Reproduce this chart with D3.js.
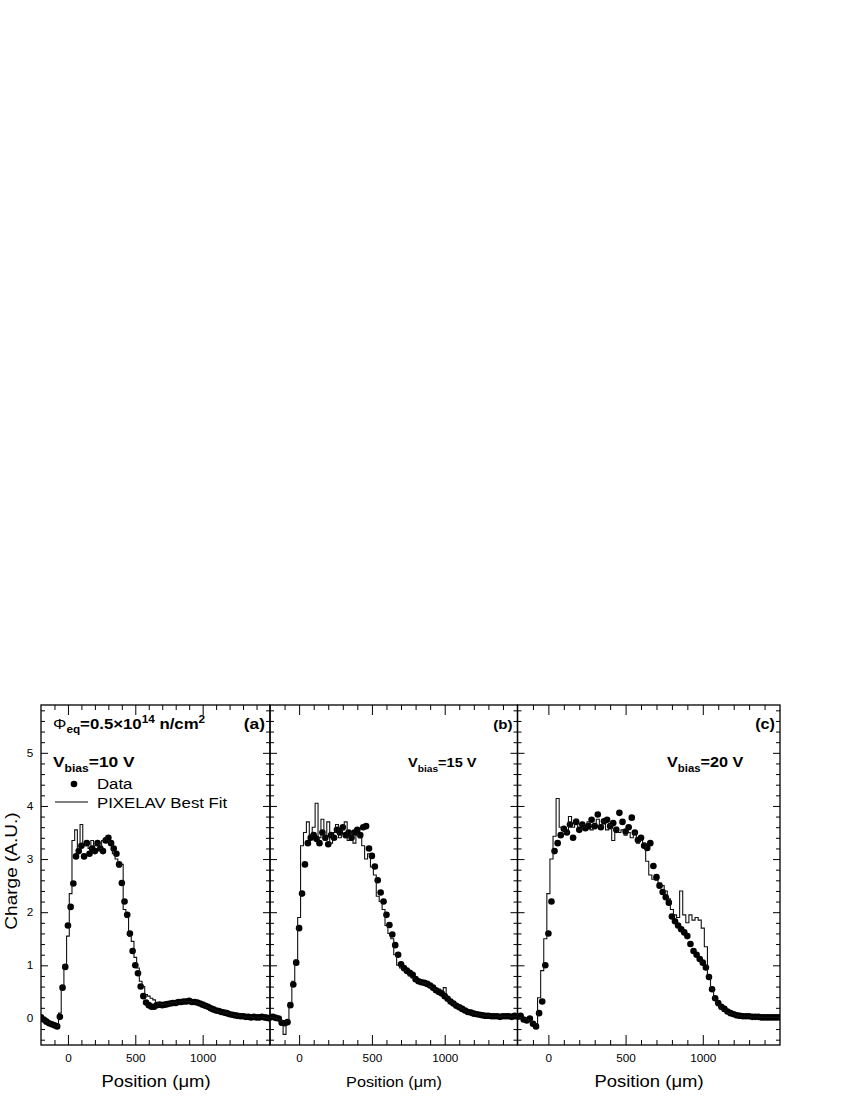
<!DOCTYPE html>
<html>
<head>
<meta charset="utf-8">
<script src="https://cdn.jsdelivr.net/npm/d3@7"></script>
<style>
body { margin: 0; background: #fff; }
text { font-family: "Liberation Sans", Arial, Helvetica, sans-serif; }
</style>
</head>
<body>
<div id="chart"></div>
<script>
// positions (um), same for every panel
const position = [
  -200,-180,-160,-140,-120,-100,-80,-60,-40,-20,
  0,20,40,60,80,100,120,140,160,180,
  200,220,240,260,280,300,320,340,360,380,
  400,420,440,460,480,500,520,540,560,580,
  600,620,640,660,680,700,720,740,760,780,
  800,820,840,860,880,900,920,940,960,980,
  1000,1020,1040,1060,1080,1100,1120,1140,1160,1180,
  1200,1220,1240,1260,1280,1300,1320,1340,1360,1380,
  1400,1420,1440,1460,1480,1500
];

// (a) Vbias = 10 V
const dataA = [
  0.02,-0.02,-0.06,-0.09,-0.11,-0.13,-0.15,0.03,0.58,0.97,
  1.75,2.1,2.54,3.05,3.15,3.25,3.05,3.3,3.1,3.2,
  3.15,3.3,3.2,3.15,3.35,3.4,3.3,3.2,3.1,2.9,
  2.55,2.2,1.95,1.6,1.27,1.0,0.85,0.6,0.42,0.3,
  0.25,0.22,0.22,0.25,0.26,0.25,0.26,0.27,0.28,0.29,
  0.29,0.31,0.31,0.32,0.32,0.33,0.31,0.31,0.30,0.28,
  0.26,0.24,0.22,0.19,0.17,0.15,0.14,0.12,0.11,0.10,
  0.08,0.07,0.06,0.05,0.04,0.04,0.03,0.03,0.02,0.03,
  0.02,0.02,0.03,0.02,0.01,0.0
];
const fitA = [
  0.0,-0.03,-0.06,-0.09,-0.12,-0.14,-0.15,0.1,0.6,1.0,
  1.55,2.35,3.35,3.55,3.2,3.65,3.25,3.3,3.2,3.35,
  3.25,3.3,3.2,3.35,3.4,3.35,3.3,3.1,3.0,2.85,
  2.9,2.05,1.9,1.55,1.45,1.15,0.95,0.7,0.6,0.45,
  0.42,0.38,0.35,0.3,0.28,0.26,0.27,0.27,0.29,0.3,
  0.3,0.31,0.32,0.33,0.32,0.32,0.31,0.31,0.29,0.28,
  0.26,0.24,0.21,0.19,0.17,0.15,0.13,0.12,0.11,0.1,
  0.08,0.07,0.06,0.05,0.05,0.04,0.03,0.03,0.03,0.02,
  0.02,0.02,0.02,0.02,0.01,0.0
];

// (b) Vbias = 15 V
const dataB = [
  0.02,0.03,0.01,0.0,-0.08,-0.09,-0.07,0.25,0.64,1.05,
  1.7,2.35,2.9,3.3,3.4,3.45,3.38,3.3,3.5,3.4,
  3.28,3.45,3.4,3.55,3.5,3.6,3.45,3.5,3.4,3.5,
  3.55,3.45,3.6,3.62,3.2,3.06,2.86,2.6,2.37,2.2,
  1.95,1.76,1.58,1.38,1.2,1.02,0.95,0.9,0.86,0.82,
  0.74,0.7,0.68,0.67,0.65,0.62,0.58,0.53,0.5,0.47,
  0.42,0.37,0.32,0.28,0.24,0.21,0.18,0.15,0.12,0.11,
  0.09,0.08,0.07,0.06,0.05,0.05,0.04,0.04,0.04,0.03,
  0.04,0.04,0.04,0.03,0.05,0.04
];
const fitB = [
  0.02,0.02,0.0,-0.02,-0.05,-0.3,-0.05,0.3,0.7,1.1,
  1.9,3.25,3.5,3.7,3.45,3.6,4.05,3.4,3.75,3.35,
  3.7,3.3,3.5,3.65,3.4,3.55,3.7,3.35,3.5,3.3,
  3.45,3.4,3.25,3.0,3.1,2.85,2.7,2.3,2.2,2.05,
  1.75,1.6,1.5,1.2,1.0,0.95,0.9,0.85,0.8,0.76,
  0.72,0.7,0.68,0.66,0.63,0.6,0.57,0.55,0.55,0.52,
  0.58,0.4,0.33,0.28,0.24,0.21,0.18,0.15,0.12,0.11,
  0.09,0.08,0.07,0.06,0.05,0.05,0.04,0.04,0.04,0.03,
  0.04,0.04,0.04,0.03,0.04,0.04
];

// (c) Vbias = 20 V
const dataC = [
  0.03,0.05,-0.02,-0.04,0.0,-0.1,-0.15,0.1,0.32,1.0,
  1.6,2.2,3.15,3.3,3.45,3.57,3.5,3.65,3.4,3.7,
  3.55,3.65,3.58,3.62,3.74,3.62,3.84,3.6,3.71,3.74,
  3.62,3.68,3.55,3.87,3.7,3.52,3.6,3.78,3.5,3.36,
  3.4,3.25,3.21,3.3,2.87,2.66,2.5,2.38,2.28,2.18,
  1.92,1.83,1.75,1.68,1.62,1.55,1.4,1.27,1.2,1.12,
  1.05,0.96,0.78,0.55,0.38,0.29,0.22,0.18,0.13,0.1,
  0.08,0.06,0.05,0.04,0.04,0.04,0.03,0.03,0.03,0.02,
  0.02,0.02,0.02,0.02,0.02,0.02
];
const fitC = [
  0.0,0.02,0.0,-0.02,-0.05,-0.08,-0.1,0.39,0.9,1.5,
  2.35,3.0,3.43,4.14,3.6,3.55,3.5,3.8,3.6,3.75,
  3.55,3.65,3.6,3.7,3.55,3.65,3.75,3.6,3.7,3.55,
  3.65,3.35,3.6,3.5,3.55,3.45,3.5,3.4,3.5,3.3,
  3.35,3.3,2.96,2.7,2.62,2.6,2.55,2.5,2.4,2.25,
  2.05,1.95,1.9,2.4,1.95,1.8,1.95,1.85,1.9,1.85,
  1.7,1.35,0.8,0.55,0.36,0.24,0.18,0.14,0.11,0.09,
  0.08,0.06,0.05,0.04,0.04,0.04,0.03,0.03,0.03,0.02,
  0.02,0.02,0.02,0.02,0.02,0.02
];

const xTickLabels = [0, 500, 1000];
const yTickLabels = [0, 1, 2, 3, 4, 5];

// layout
const plotTop = 705, plotBottom = 1045;
const stretch = 1.12;   // text in the original is a bit wide
const panels = [
  {name: "a", left: 41,    right: 270, data: dataA, fit: fitA, tag: "(a)", volt: "=10 V", vx: 53,  vsize: 15.5, tagSize: 15.5, titleSize: 16.5},
  {name: "b", left: 270,   right: 517.5, data: dataB, fit: fitB, tag: "(b)", volt: "=15 V", vx: 408, vsize: 13,   tagSize: 13.5, titleSize: 14.5},
  {name: "c", left: 517.5, right: 780, data: dataC, fit: fitC, tag: "(c)", volt: "=20 V", vx: 667, vsize: 14.5, tagSize: 14.5, titleSize: 16.5}
];

var svg = d3.select("#chart").append("svg")
    .attr("width", 850)
    .attr("height", 1100);

var y = d3.scaleLinear().domain([-0.5, 5.9]).range([plotBottom, plotTop]);

function addText(parent, x, yy, size, weight, anchor) {
    return parent.append("text")
        .attr("transform", `translate(${x},${yy}) scale(${stretch},1)`)
        .attr("font-size", size)
        .attr("font-weight", weight)
        .attr("text-anchor", anchor || "start")
        .attr("fill", "#000");
}

function styleAxis(g) {
    g.select(".domain").remove();
    g.selectAll("line").attr("stroke", "#000").attr("stroke-width", 1);
    g.selectAll("text")
        .attr("font-family", "'Liberation Sans', Arial, sans-serif")
        .attr("font-size", 10.5)
        .attr("fill", "#000")
        .attr("transform", `scale(${stretch},1)`);
}

function drawPanel(p) {
    var x = d3.scaleLinear().domain([-200, 1500]).range([p.left, p.right]);
    var g = svg.append("g");

    var minorX = d3.range(-100, 1500, 100).filter(function(v) { return v % 500 != 0; });
    var minorY = d3.range(-4, 59, 2).map(function(v) { return v / 10; }).filter(function(v) { return v % 1 != 0; });

    // bottom
    g.append("g").attr("transform", `translate(0,${plotBottom})`)
        .call(d3.axisBottom(x).tickValues(minorX).tickSizeInner(-5).tickSizeOuter(0).tickFormat(""))
        .call(styleAxis);
    g.append("g").attr("transform", `translate(0,${plotBottom})`)
        .call(d3.axisBottom(x).tickValues(xTickLabels).tickSizeInner(-10).tickSizeOuter(0).tickPadding(10).tickFormat(d3.format("d")))
        .call(styleAxis);
    // top
    g.append("g").attr("transform", `translate(0,${plotTop})`)
        .call(d3.axisTop(x).tickValues(minorX).tickSizeInner(-5).tickSizeOuter(0).tickFormat(""))
        .call(styleAxis);
    g.append("g").attr("transform", `translate(0,${plotTop})`)
        .call(d3.axisTop(x).tickValues(xTickLabels).tickSizeInner(-10).tickSizeOuter(0).tickFormat(""))
        .call(styleAxis);
    // left
    g.append("g").attr("transform", `translate(${p.left},0)`)
        .call(d3.axisLeft(y).tickValues(minorY).tickSizeInner(-4).tickSizeOuter(0).tickFormat(""))
        .call(styleAxis);
    var leftMajor = d3.axisLeft(y).tickValues(yTickLabels).tickSizeInner(-7).tickSizeOuter(0).tickPadding(7)
        .tickFormat(p.name == "a" ? d3.format("d") : "");
    g.append("g").attr("transform", `translate(${p.left},0)`)
        .call(leftMajor)
        .call(styleAxis);
    // right
    g.append("g").attr("transform", `translate(${p.right},0)`)
        .call(d3.axisRight(y).tickValues(minorY).tickSizeInner(-4).tickSizeOuter(0).tickFormat(""))
        .call(styleAxis);
    g.append("g").attr("transform", `translate(${p.right},0)`)
        .call(d3.axisRight(y).tickValues(yTickLabels).tickSizeInner(-7).tickSizeOuter(0).tickFormat(""))
        .call(styleAxis);

    // frame
    g.append("rect")
        .attr("x", p.left).attr("y", plotTop)
        .attr("width", p.right - p.left).attr("height", plotBottom - plotTop)
        .attr("fill", "none").attr("stroke", "#000").attr("stroke-width", 1.3);

    svg.append("clipPath").attr("id", "clip" + p.name)
        .append("rect")
        .attr("x", p.left).attr("y", plotTop)
        .attr("width", p.right - p.left).attr("height", plotBottom - plotTop);

    var pts = position.map(function(d, i) { return {pos: d, data: p.data[i], fit: p.fit[i]}; });
    var inner = g.append("g").attr("clip-path", `url(#clip${p.name})`);

    // data points
    inner.selectAll(".dot")
        .data(pts)
        .enter().append("circle")
        .attr("class", "dot")
        .attr("cx", function(d) { return x(d.pos); })
        .attr("cy", function(d) { return y(d.data); })
        .attr("r", 3.3)
        .attr("fill", "#000");

    // PIXELAV fit as a histogram
    var line = d3.line()
        .curve(d3.curveStep)
        .x(function(d) { return x(d.pos); })
        .y(function(d) { return y(d.fit); });
    inner.append("path")
        .datum(pts)
        .attr("d", line)
        .attr("fill", "none")
        .attr("stroke", "#111")
        .attr("stroke-width", 1.1);

    // labels
    addText(g, p.right - 5, 729, p.tagSize, "bold", "end").text(p.tag);

    var v = addText(g, p.vx, 767, p.vsize, "bold");
    v.append("tspan").text("V");
    v.append("tspan").attr("font-size", p.vsize * 0.7).attr("dy", 5).text("bias");
    v.append("tspan").attr("dy", -5).text(p.volt);

    var xt = (p.name == "a") ? 156 : (p.name == "b" ? 394 : 649);
    addText(g, xt, 1087, p.titleSize, "normal", "middle").text("Position (\u03bcm)");
}

panels.forEach(drawPanel);

// fluence label
var phi = addText(svg, 53, 729, 15, "bold");
phi.append("tspan").attr("font-weight", "normal").text("\u03a6");
phi.append("tspan").attr("font-size", 10.5).attr("dy", 4).text("eq");
phi.append("tspan").attr("dy", -4).text("=0.5\u00d710");
phi.append("tspan").attr("font-size", 10.5).attr("dy", -6).text("14");
phi.append("tspan").attr("dy", 6).text(" n/cm");
phi.append("tspan").attr("font-size", 10.5).attr("dy", -6).text("2");

// legend
svg.append("circle").attr("cx", 74).attr("cy", 784).attr("r", 3.3).attr("fill", "#000");
addText(svg, 97, 789, 15, "normal").text("Data");
svg.append("line").attr("x1", 55).attr("x2", 88).attr("y1", 802).attr("y2", 802)
    .attr("stroke", "#000").attr("stroke-width", 1.1);
addText(svg, 97, 808, 15, "normal").text("PIXELAV Best Fit");

// y title
svg.append("text")
    .attr("transform", `translate(17,871) rotate(-90) scale(${stretch},1)`)
    .attr("text-anchor", "middle")
    .attr("font-size", 17)
    .text("Charge (A.U.)");
</script>
</body>
</html>
